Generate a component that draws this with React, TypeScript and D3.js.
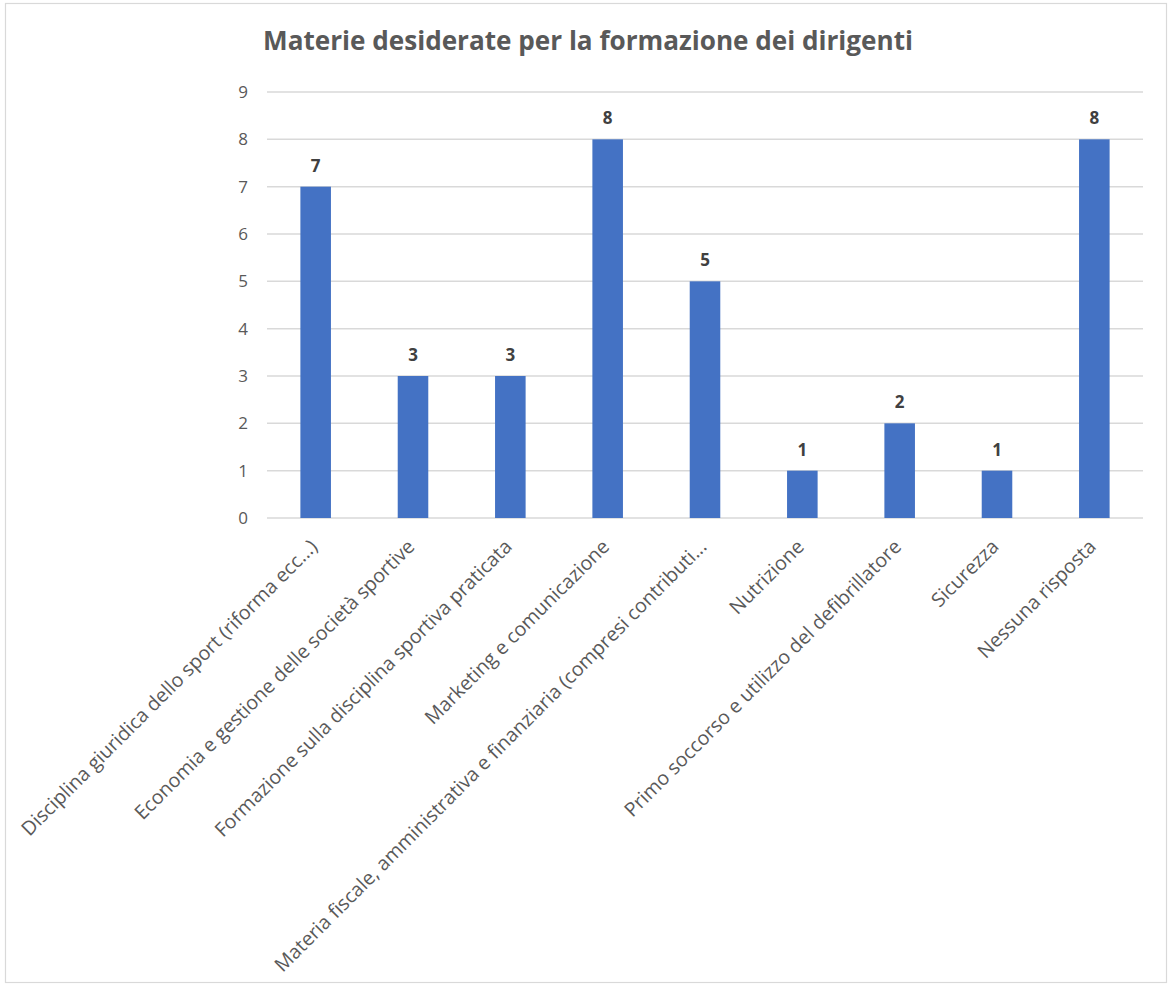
import React from "react";
import * as d3 from "d3";

const categories: string[] = [
  "Disciplina giuridica dello sport (riforma ecc...)",
  "Economia e gestione delle società sportive",
  "Formazione sulla disciplina sportiva praticata",
  "Marketing e comunicazione",
  "Materia fiscale, amministrativa e finanziaria (compresi contributi...",
  "Nutrizione",
  "Primo soccorso e utilizzo del defibrillatore",
  "Sicurezza",
  "Nessuna risposta",
];
const values: number[] = [7, 3, 3, 8, 5, 1, 2, 1, 8];
const yTicks: number[] = [0, 1, 2, 3, 4, 5, 6, 7, 8, 9];
const title = "Materie desiderate per la formazione dei dirigenti";

const W = 1170;
const H = 985;
const plot = { left: 267, right: 1143, top: 92, bottom: 518 };

export default function App() {
  const x = d3
    .scaleBand<string>()
    .domain(categories)
    .range([plot.left, plot.right])
    .paddingInner(0.686)
    .paddingOuter(0.343);
  const y = d3.scaleLinear().domain([0, 9]).range([plot.bottom, plot.top]);
  const font = "'Open Sans', 'Segoe UI', sans-serif";
  return (
    <svg
      width={W}
      height={H}
      style={{ position: "absolute", left: 0, top: 0, background: "#fff" }}
      fontFamily={font}
    >
      <rect x={5.5} y={3.5} width={1161} height={979} fill="#fff" stroke="#d9d9d9" strokeWidth={1.2} />
      <text
        x={263}
        y={50}
        textAnchor="start"
        fontSize={27.5}
        fontWeight="bold"
        fill="#595959"
        textLength={650}
        lengthAdjust="spacingAndGlyphs"
      >
        {title}
      </text>
      {yTicks.map((t) => (
        <g key={t}>
          <line x1={plot.left} x2={plot.right} y1={y(t)} y2={y(t)} stroke="#d9d9d9" strokeWidth={1.5} />
          <text x={248} y={y(t)} dy="0.35em" textAnchor="end" fontSize={17} fill="#595959">
            {t}
          </text>
        </g>
      ))}
      {categories.map((c, i) => {
        const bx = x(c)!;
        const cx = bx + x.bandwidth() / 2;
        return (
          <g key={c}>
            <rect x={bx} y={y(values[i])} width={x.bandwidth()} height={y(0) - y(values[i])} fill="#4472C4" />
            <text x={cx} y={y(values[i]) - 15} textAnchor="middle" fontSize={17} fontWeight="bold" fill="#404040">
              {values[i]}
            </text>
            <text
              transform={`translate(${cx - 2},${plot.bottom + 25}) rotate(-45)`}
              textAnchor="end"
              dy="0.35em"
              fontSize={19.6}
              fill="#595959"
            >
              {c}
            </text>
          </g>
        );
      })}
    </svg>
  );
}
